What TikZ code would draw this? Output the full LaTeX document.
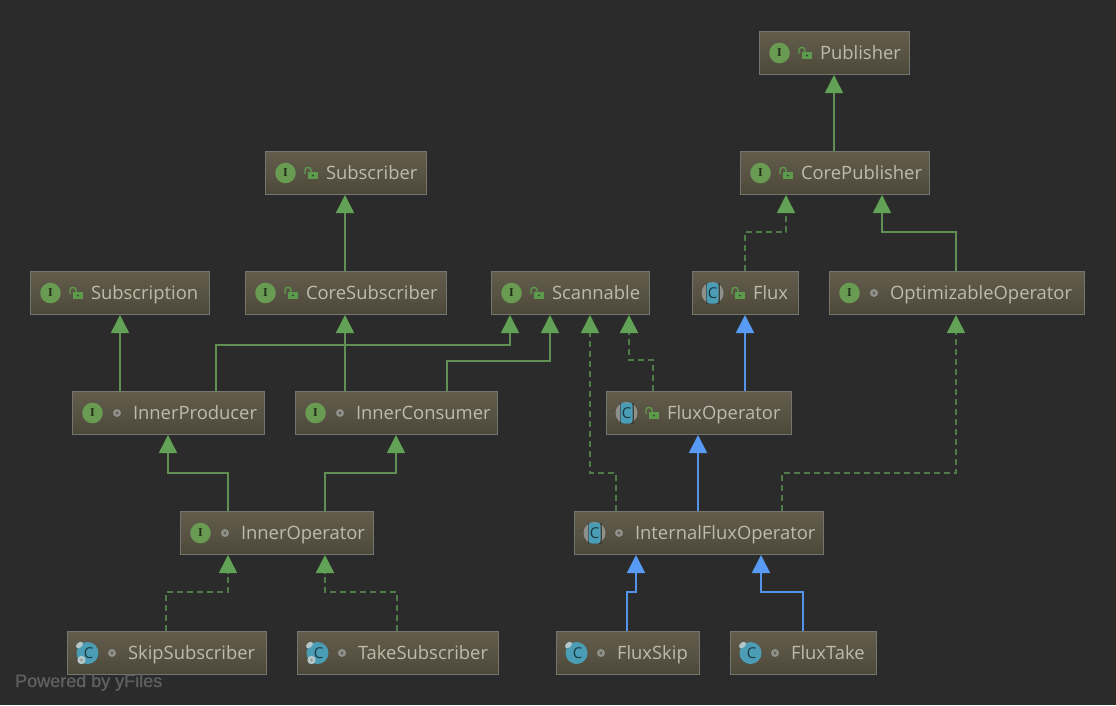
\documentclass[tikz,border=0pt]{standalone}
\usepackage{fontspec}
\setmainfont{Open Sans}
\newfontfamily\markfont{Liberation Serif}
\newfontfamily\stampfont[FakeBold=1]{Liberation Sans}
\usetikzlibrary{arrows.meta,calc}
\definecolor{canvas}{HTML}{2B2B2B}
\definecolor{boxtop}{HTML}{645D4D}
\definecolor{boxbottom}{HTML}{4C4839}
\definecolor{boxedge}{HTML}{75756F}
\definecolor{labelcol}{HTML}{BFBBAB}
\definecolor{greenline}{HTML}{5F8F52}
\definecolor{greendash}{HTML}{507A47}
\definecolor{greenhead}{HTML}{62A257}
\definecolor{blueline}{HTML}{5394EA}
\definecolor{bluehead}{HTML}{589BF4}
\definecolor{ifacegreen}{HTML}{6A9B52}
\definecolor{teal}{HTML}{4A9DB5}
\definecolor{capgrey}{HTML}{8E908C}
\definecolor{lockgreen}{HTML}{5E9A4E}
\definecolor{dotgrey}{HTML}{8F918A}
\definecolor{stampcol}{HTML}{606060}
\definecolor{pingrey}{HTML}{B4C6C9}
\tikzset{
  umlbox/.style={draw=boxedge,line width=1pt,top color=boxtop,bottom color=boxbottom,
    anchor=north west,inner sep=0pt,align=left,text=labelcol,
    font=\fontsize{18.4}{22}\selectfont,text height=15pt,text depth=2pt},
  extends/.style={line width=1.5pt,greenline,-{Triangle[length=18pt,width=18pt,fill=greenhead,color=greenhead]}},
  implements/.style={line width=1.5pt,greendash,dash pattern=on 6pt off 4pt,-{Triangle[length=18pt,width=18pt,fill=greenhead,color=greenhead]}},
  inherits/.style={line width=1.7pt,blueline,-{Triangle[length=18pt,width=18pt,fill=bluehead,color=bluehead]}},
  letter/.style={inner sep=0pt,font=\markfont\bfseries\fontsize{12}{12}\selectfont},
  capletter/.style={inner sep=0pt,font=\fontsize{15}{15}\selectfont},
  pin/.style={fill=pingrey},
  iface/.pic={
    \fill[ifacegreen] (0,0) circle (10.3);
    \node[letter,text=black!70!ifacegreen] (letter) at (0,0) {I};
  },
  abstractcls/.pic={
    \fill[capgrey] (0,0) circle (11);
    \fill[canvas!60!boxtop] (-7,-10.5) rectangle (7,10.5);
    \fill[teal,rounded corners=3pt] (-6,-10.5) rectangle (6,10.5);
    \node[capletter,text=black!65!teal] (letter) at (0,0) {C};
  },
  plaincls/.pic={
    \fill[teal] (0,0) circle (11);
    \node[capletter,text=black!65!teal] (letter) at (1,0) {C};
    \fill[pin,shift={(-8,-8)},rotate=40] (0,0) ellipse (4 and 2.6);
  },
  pinnedcls/.pic={
    \fill[teal] (0,0) circle (11);
    \node[capletter,text=black!65!teal] (letter) at (1,0) {C};
    \fill[pin,shift={(-8,-8)},rotate=40] (0,0) ellipse (4 and 2.6);
    \fill[pin] (-6,7) circle (4.2);
    \fill[capgrey] (-6,7) circle (1.4);
  },
  openlock/.pic={
    \fill[lockgreen] (-2,-1) rectangle (8,6);
    \draw[lockgreen,line width=1.4pt] (-5,1) -- (-5,-3) .. controls (-5,-6.5) and (1,-6.5) .. (1,-3) -- (1,-1);
    \fill[black!50!lockgreen] (3,2.5) circle (1.1);
  },
  packagedot/.pic={
    \fill[dotgrey] (0,0) circle (4);
    \fill[black!35!dotgrey] (0,0) circle (1.6);
  }
}
% #1 name, #2-#5 box corners, #6 label, #7 kind icon, #8 visibility icon
\newcommand{\umlnode}[8]{%
  \pgfmathsetmacro{\boxw}{#4-#2}%
  \pgfmathsetmacro{\boxh}{#5-#3}%
  \node[umlbox,text width=\boxw pt,minimum height=\boxh pt] (#1) at (#2,#3) {\hspace*{60.5pt}#6};
  \pic (#1-kind) at ([xshift=20.5pt]#1.west) {#7};
  \pic (#1-vis) at ([xshift=45pt]#1.west) {#8};
}
% #1 style, #2 source, #3 source x, #4 bend y, #5 target, #6 target x
\newcommand{\umledge}[6]{%
  \draw[#1] (#2.north -| #3,0) -- (#3,#4) -- (#6,#4) -- (#5.south -| #6,0);
}
\begin{document}
\begin{tikzpicture}[x=1pt,y=-1pt]
\useasboundingbox (0,0) rectangle (1116,705);
\fill[canvas] (0,0) rectangle (1116,705);

\umlnode{publisher}{759}{31}{909}{74}{Publisher}{iface}{openlock}
\umlnode{corepublisher}{740}{151}{929}{194}{CorePublisher}{iface}{openlock}
\umlnode{subscriber}{265}{151}{426}{194}{Subscriber}{iface}{openlock}
\umlnode{subscription}{30}{271}{209}{314}{Subscription}{iface}{openlock}
\umlnode{coresubscriber}{245}{271}{446}{314}{CoreSubscriber}{iface}{openlock}
\umlnode{scannable}{491}{271}{649}{314}{Scannable}{iface}{openlock}
\umlnode{flux}{692}{271}{798}{314}{Flux}{abstractcls}{openlock}
\umlnode{optimizable}{829}{271}{1084}{314}{OptimizableOperator}{iface}{packagedot}
\umlnode{innerproducer}{72}{391}{264}{434}{InnerProducer}{iface}{packagedot}
\umlnode{innerconsumer}{295}{391}{497}{434}{InnerConsumer}{iface}{packagedot}
\umlnode{fluxoperator}{606}{391}{791}{434}{FluxOperator}{abstractcls}{openlock}
\umlnode{inneroperator}{180}{511}{373}{554}{InnerOperator}{iface}{packagedot}
\umlnode{internalflux}{574}{511}{823}{554}{InternalFluxOperator}{abstractcls}{packagedot}
\umlnode{skipsub}{67}{631}{266}{674}{SkipSubscriber}{pinnedcls}{packagedot}
\umlnode{takesub}{297}{631}{498}{674}{TakeSubscriber}{pinnedcls}{packagedot}
\umlnode{fluxskip}{556}{631}{699}{674}{FluxSkip}{plaincls}{packagedot}
\umlnode{fluxtake}{730}{631}{876}{674}{FluxTake}{plaincls}{packagedot}

% interface extension
\draw[extends] (corepublisher.north -| 834,0) -- (publisher.south -| 834,0);
\draw[extends] (coresubscriber.north -| 345,0) -- (subscriber.south -| 345,0);
\draw[extends] (innerproducer.north -| 120,0) -- (subscription.south -| 120,0);
\draw[extends] (innerconsumer.north -| 345,0) -- (coresubscriber.south -| 345,0);
\umledge{extends}{innerproducer}{216}{345}{scannable}{510}
\umledge{extends}{innerconsumer}{447}{361}{scannable}{550}
\umledge{extends}{optimizable}{956}{232}{corepublisher}{882}
\umledge{extends}{inneroperator}{228}{473}{innerproducer}{168}
\umledge{extends}{inneroperator}{325}{473}{innerconsumer}{396}

% interface implementation
\umledge{implements}{internalflux}{616}{473}{scannable}{590}
\umledge{implements}{fluxoperator}{653}{360}{scannable}{629}
\umledge{implements}{internalflux}{782}{473}{optimizable}{956}
\umledge{implements}{flux}{745}{232}{corepublisher}{786}
\umledge{implements}{skipsub}{166}{592}{inneroperator}{228}
\umledge{implements}{takesub}{397}{592}{inneroperator}{325}

% class inheritance
\draw[inherits] (fluxoperator.north -| 745,0) -- (flux.south -| 745,0);
\draw[inherits] (internalflux.north -| 698,0) -- (fluxoperator.south -| 698,0);
\umledge{inherits}{fluxskip}{627}{592}{internalflux}{636}
\umledge{inherits}{fluxtake}{803}{592}{internalflux}{761}

\node[anchor=base west,inner sep=0pt,text=stampcol,font=\stampfont\fontsize{18}{20}\selectfont] (stamp) at (15,687) {Powered by yFiles};
\end{tikzpicture}
\end{document}
